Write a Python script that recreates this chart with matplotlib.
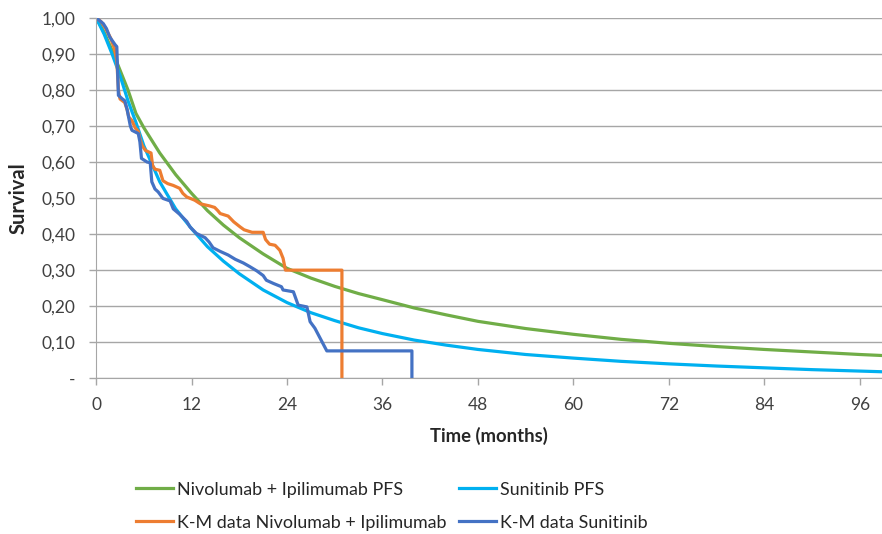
import matplotlib
matplotlib.use("Agg")
import matplotlib.pyplot as plt

plt.rcParams['font.family'] = ['Lato', 'DejaVu Sans']

# fitted PFS curves
t_fit = [0, 1, 2, 3, 4, 5, 6, 8, 10, 12, 14, 16, 18, 21, 24, 27, 30, 33, 36,
         40, 44, 48, 54, 60, 66, 72, 78, 84, 90, 96, 99]
nivo_pfs = [1.00, 0.96, 0.91, 0.855, 0.80, 0.735, 0.695, 0.625, 0.565, 0.513,
            0.465, 0.425, 0.39, 0.345, 0.305, 0.278, 0.255, 0.235, 0.218,
            0.195, 0.176, 0.158, 0.138, 0.122, 0.108, 0.097, 0.088, 0.080,
            0.073, 0.066, 0.063]
suni_pfs = [1.00, 0.955, 0.90, 0.84, 0.77, 0.71, 0.645, 0.545, 0.47, 0.415,
            0.365, 0.325, 0.29, 0.245, 0.21, 0.182, 0.16, 0.14, 0.124,
            0.106, 0.092, 0.080, 0.066, 0.056, 0.047, 0.040, 0.034, 0.029,
            0.024, 0.020, 0.018]

# Kaplan-Meier data
km_nivo_t = [0, 0.6, 1.2, 1.8, 2.3, 2.6, 2.8, 3.0, 3.6, 3.9, 4.1, 4.5, 4.9, 5.3,
             5.5, 5.8, 6.2, 6.9, 7.1, 7.4, 8.0, 8.4, 9.0, 9.7, 10.5, 10.9, 11.4,
             12.4, 13.1, 14.3, 14.9, 15.3, 15.6, 16.6, 17.3, 18.1, 18.6, 19.6,
             21.0, 21.3, 21.8, 22.5, 23.1, 23.5, 23.8, 30.9, 30.9]
km_nivo_s = [1.0, 0.99, 0.97, 0.945, 0.915, 0.88, 0.80, 0.775, 0.765, 0.745,
             0.725, 0.715, 0.695, 0.685, 0.665, 0.645, 0.632, 0.625, 0.59, 0.58,
             0.577, 0.548, 0.54, 0.535, 0.527, 0.513, 0.503, 0.494, 0.484,
             0.478, 0.474, 0.465, 0.457, 0.45, 0.434, 0.42, 0.412, 0.405,
             0.405, 0.385, 0.372, 0.369, 0.355, 0.333, 0.30, 0.30, 0.0]

km_suni_t = [0, 0.9, 1.3, 1.7, 2.4, 2.6, 2.8, 3.3, 3.6, 3.9, 4.3, 4.5, 5.3, 5.5,
             5.7, 6.4, 6.8, 7.0, 7.4, 7.8, 8.4, 9.3, 9.7, 10.5, 11.4, 11.8, 12.6,
             13.7, 14.2, 14.7, 15.6, 16.6, 17.5, 18.5, 19.3, 20.2, 21.0, 21.4,
             22.3, 23.3, 23.5, 24.8, 25.4, 26.5, 26.9, 27.5, 29.0, 39.7, 39.7]
km_suni_s = [1.0, 0.984, 0.97, 0.947, 0.925, 0.92, 0.785, 0.775, 0.77, 0.745,
             0.70, 0.688, 0.679, 0.656, 0.61, 0.60, 0.598, 0.545, 0.525, 0.517,
             0.499, 0.492, 0.47, 0.455, 0.435, 0.42, 0.402, 0.39, 0.378, 0.362,
             0.352, 0.342, 0.33, 0.32, 0.31, 0.298, 0.285, 0.272, 0.263, 0.254,
             0.245, 0.24, 0.203, 0.198, 0.157, 0.139, 0.076, 0.076, 0.0]

x_ticks = [0, 12, 24, 36, 48, 60, 72, 84, 96]
y_ticks = [0, 0.1, 0.2, 0.3, 0.4, 0.5, 0.6, 0.7, 0.8, 0.9, 1.0]
y_labels = ['-', '0,10', '0,20', '0,30', '0,40', '0,50', '0,60', '0,70',
            '0,80', '0,90', '1,00']

fig = plt.figure(figsize=(8.82, 5.34), dpi=100)
ax = fig.add_axes([0.109, 0.2916, 0.891, 0.675])

lw = 2.3
l1, = ax.plot(t_fit, nivo_pfs, color='#70AD47', lw=lw, label='Nivolumab + Ipilimumab PFS')
l2, = ax.plot(t_fit, suni_pfs, color='#00B0F0', lw=lw, label='Sunitinib PFS')
l3, = ax.plot(km_nivo_t, km_nivo_s, color='#ED7D31', lw=lw, label='K-M data Nivolumab + Ipilimumab')
l4, = ax.plot(km_suni_t, km_suni_s, color='#4472C4', lw=lw, label='K-M data Sunitinib')

ax.set_xlim(0, 98.8)
ax.set_ylim(0, 1.0)
ax.set_xticks(x_ticks)
ax.set_yticks(y_ticks)
ax.set_yticklabels(y_labels)
ax.yaxis.grid(True, color='#a6a6a6', lw=1)
ax.set_axisbelow(True)
for s in ['top', 'right']:
    ax.spines[s].set_visible(False)
for s in ['left', 'bottom']:
    ax.spines[s].set_color('#a6a6a6')
ax.tick_params(axis='both', colors='#a6a6a6', labelcolor='#404040',
               labelsize=12.5, length=5, width=1)
ax.tick_params(axis='x', pad=8.5)
ax.tick_params(axis='y', pad=10)

ax.set_xlabel('Time (months)', fontsize=13.3, fontweight='bold', color='#262626', labelpad=10)
ax.set_ylabel('Survival', fontsize=14.5, fontweight='bold', color='#262626', labelpad=9)

fig.legend(handles=[l1, l3, l2, l4], ncol=2, loc='center',
           bbox_to_anchor=(0.444, 0.052), frameon=False, fontsize=12.9,
           handlelength=2.07, handletextpad=0.22, columnspacing=0.67,
           labelspacing=0.95, labelcolor='#262626')

fig.savefig('out.png', dpi=100)
